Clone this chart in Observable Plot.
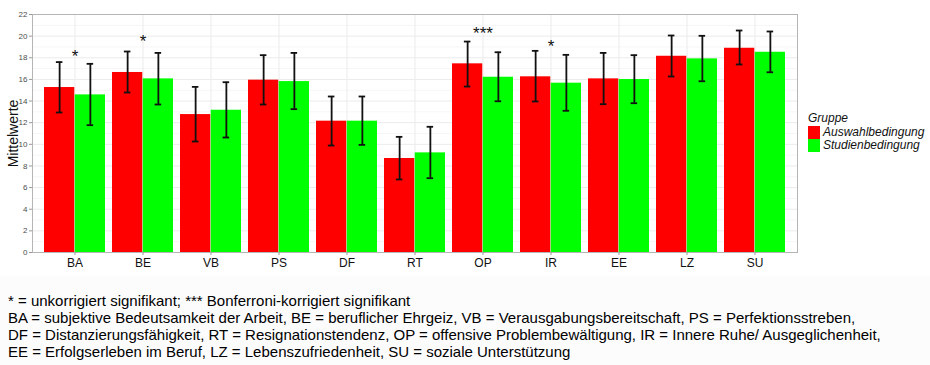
<!DOCTYPE html>
<html>
<head>
<meta charset="utf-8">
<script src="https://cdn.jsdelivr.net/npm/d3@7"></script>
<script src="https://cdn.jsdelivr.net/npm/@observablehq/plot@0.6"></script>
<style>
  html, body { margin: 0; padding: 0; background: #fff; }
  #wrap { position: relative; width: 930px; height: 365px; overflow: hidden; font-family: "Liberation Sans", Arial, sans-serif; }
  #bottombg { position: absolute; left: 0; top: 276px; width: 930px; height: 89px; background: #fcfcfd; }
  #chart { position: absolute; left: 0; top: 0; }
  #legend { position: absolute; left: 808px; top: 111px; font-style: italic; font-size: 12px; color: #111; }
  #legend .title { height: 15px; line-height: 15px; }
  #legend .item { height: 13px; line-height: 13px; display: flex; align-items: center; }
  #legend .sw { width: 12px; height: 13px; margin-right: 3px; }
  #caption { position: absolute; left: 8px; top: 292px; font-size: 15px; line-height: 17px; color: #000; white-space: nowrap; }
</style>
</head>
<body>
<div id="wrap">
  <div id="bottombg"></div>
  <div id="chart"></div>
  <div id="legend"></div>
  <div id="caption"></div>
</div>
<script>
// ---- data ----
const categories = ["BA", "BE", "VB", "PS", "DF", "RT", "OP", "IR", "EE", "LZ", "SU"];
const groups = ["Auswahlbedingung", "Studienbedingung"];
const auswahlMean = [15.25, 16.64, 12.75, 15.93, 12.14, 8.69, 17.44, 16.24, 16.05, 18.14, 18.88];
const auswahlLow  = [12.94, 14.79, 10.26, 13.68, 9.89, 6.75, 15.34, 13.96, 13.71, 16.27, 17.38];
const auswahlHigh = [17.60, 18.58, 15.31, 18.24, 14.42, 10.69, 19.50, 18.64, 18.45, 20.06, 20.52];
const studienMean = [14.57, 16.05, 13.15, 15.80, 12.14, 9.21, 16.20, 15.65, 15.99, 17.90, 18.51];
const studienLow  = [11.77, 13.68, 10.63, 13.25, 9.95, 6.87, 13.98, 13.10, 13.80, 15.83, 16.66];
const studienHigh = [17.44, 18.45, 15.74, 18.45, 14.42, 11.62, 18.51, 18.27, 18.24, 20.03, 20.43];
const starCategories = ["BA", "BE", "OP", "IR"];
const starLabels = ["*", "*", "***", "*"];
const starY = [18.1, 19.5, 20.2, 19.0];
const yTicks = [0, 2, 4, 6, 8, 10, 12, 14, 16, 18, 20, 22];
const yMinor = [1, 3, 5, 7, 9, 11, 13, 15, 17, 19, 21];
const captionLines = [
  "* = unkorrigiert signifikant; *** Bonferroni-korrigiert signifikant",
  "BA = subjektive Bedeutsamkeit der Arbeit, BE = beruflicher Ehrgeiz, VB = Verausgabungsbereitschaft, PS = Perfektionsstreben,",
  "DF = Distanzierungsfähigkeit, RT = Resignationstendenz, OP = offensive Problembewältigung, IR = Innere Ruhe/ Ausgeglichenheit,",
  "EE = Erfolgserleben im Beruf, LZ = Lebenszufriedenheit, SU = soziale Unterstützung"
];
const colors = ["#ff0000", "#00ff00"];

// ---- build tables ----
const auswahl = categories.map((c, i) => ({cat: c, mean: auswahlMean[i], lo: auswahlLow[i], hi: auswahlHigh[i]}));
const studien = categories.map((c, i) => ({cat: c, mean: studienMean[i], lo: studienLow[i], hi: studienHigh[i]}));
const stars = starCategories.map((c, i) => ({cat: c, label: starLabels[i], y: starY[i]}));

// ---- layout ----
const W = 930, H = 276;
const mL = 32, mR = 133, mT = 14, mB = 24;
const innerW = W - mL - mR;
const pInner = 0.1, pOuter = 0.15;
const step = innerW / (categories.length - pInner + 2 * pOuter);
const bw = step * (1 - pInner);
const half = bw / 2;
const cap = 7;

const chart = Plot.plot({
  width: W,
  height: H,
  marginLeft: mL,
  marginRight: mR,
  marginTop: mT,
  marginBottom: mB,
  style: {fontFamily: "'Liberation Sans', Arial, sans-serif", background: "transparent"},
  x: {domain: categories, paddingInner: pInner, paddingOuter: pOuter, align: 0.5, label: null},
  y: {domain: [0, 22], label: null},
  marks: [
    Plot.frame({fill: "#fff"}),
    Plot.ruleY(yMinor, {stroke: "#f6f6f6", strokeWidth: 1}),
    Plot.ruleY(yTicks, {stroke: "#ebebeb", strokeWidth: 1}),
    Plot.ruleX(categories, {stroke: "#ebebeb", strokeWidth: 1}),
    Plot.barY(auswahl, {x: "cat", y: "mean", fill: colors[0], insetRight: half}),
    Plot.barY(studien, {x: "cat", y: "mean", fill: colors[1], insetLeft: half}),
    Plot.ruleX(auswahl, {x: "cat", y1: "lo", y2: "hi", dx: -bw / 4, stroke: "#111", strokeWidth: 1.8}),
    Plot.ruleX(studien, {x: "cat", y1: "lo", y2: "hi", dx: bw / 4, stroke: "#111", strokeWidth: 1.8}),
    Plot.tickY(auswahl, {x: "cat", y: "lo", dx: -bw / 4, insetLeft: (bw - cap) / 2, insetRight: (bw - cap) / 2, stroke: "#111", strokeWidth: 1.8}),
    Plot.tickY(auswahl, {x: "cat", y: "hi", dx: -bw / 4, insetLeft: (bw - cap) / 2, insetRight: (bw - cap) / 2, stroke: "#111", strokeWidth: 1.8}),
    Plot.tickY(studien, {x: "cat", y: "lo", dx: bw / 4, insetLeft: (bw - cap) / 2, insetRight: (bw - cap) / 2, stroke: "#111", strokeWidth: 1.8}),
    Plot.tickY(studien, {x: "cat", y: "hi", dx: bw / 4, insetLeft: (bw - cap) / 2, insetRight: (bw - cap) / 2, stroke: "#111", strokeWidth: 1.8}),
    Plot.text(stars, {x: "cat", y: "y", text: "label", fontSize: 17, fill: "#111"}),
    Plot.frame({stroke: "#b5b5b5", strokeWidth: 1}),
    Plot.axisY({ticks: yTicks, tickSize: 3, tickPadding: 2, fontSize: 8, color: "#4d4d4d", stroke: "#999",
      label: "Mittelwerte", labelAnchor: "center", labelArrow: "none", labelOffset: 24}),
    Plot.axisX({tickSize: 3, tickPadding: 3, fontSize: 12, color: "#111", stroke: "#999", label: null})
  ]
});
document.getElementById("chart").appendChild(chart);

// y-axis title styling
chart.querySelectorAll("g[aria-label='y-axis label'] text").forEach(t => {
  t.setAttribute("font-size", "14");
  t.setAttribute("fill", "#111");
});

// ---- legend ----
const legend = document.getElementById("legend");
const title = document.createElement("div");
title.className = "title";
title.textContent = "Gruppe";
legend.appendChild(title);
groups.forEach((g, i) => {
  const item = document.createElement("div");
  item.className = "item";
  const sw = document.createElement("span");
  sw.className = "sw";
  sw.style.background = colors[i];
  const lab = document.createElement("span");
  lab.textContent = g;
  item.appendChild(sw);
  item.appendChild(lab);
  legend.appendChild(item);
});

// ---- caption ----
const caption = document.getElementById("caption");
captionLines.forEach(l => {
  const d = document.createElement("div");
  d.textContent = l;
  caption.appendChild(d);
});
</script>
</body>
</html>
